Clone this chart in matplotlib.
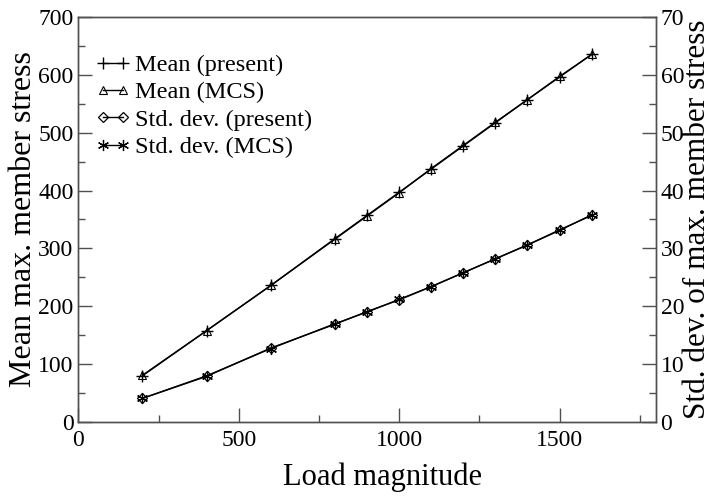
import matplotlib
matplotlib.use('Agg')
import matplotlib.pyplot as plt
from matplotlib.ticker import MultipleLocator

plt.rcParams['font.family'] = ['Liberation Serif', 'DejaVu Serif']

# data
load = [200, 400, 600, 800, 900, 1000, 1100, 1200, 1300, 1400, 1500, 1600]
mean_present = [80, 158, 236, 317, 357, 397, 437, 477, 517, 557, 596, 635]
mean_mcs = [81, 158, 236, 316, 356, 396, 438, 478, 518, 557, 597, 635]
std_present = [4.1, 7.9, 12.8, 16.9, 19.1, 21.1, 23.4, 25.8, 28.2, 30.6, 33.1, 35.8]
std_mcs = [4.1, 8.0, 12.7, 17.0, 19.0, 21.2, 23.4, 25.8, 28.2, 30.6, 33.2, 35.7]

fig = plt.figure(figsize=(7.12, 4.96), dpi=100)
ax = fig.add_axes([0.110, 0.149, 0.811, 0.817])
ax2 = ax.twinx()

lc = 'black'
h1, = ax.plot(load, mean_present, color=lc, lw=1.0, marker='+', ms=9, mew=1.0,
              label='Mean (present)')
h2, = ax.plot(load, mean_mcs, color=lc, lw=1.0, marker='^', ms=6, mew=0.8,
              mfc='none', label='Mean (MCS)')
h3, = ax2.plot(load, std_present, color=lc, lw=1.0, marker='D', ms=5, mew=0.9,
               mfc='none', label='Std. dev. (present)')
h4, = ax2.plot(load, std_mcs, color=lc, lw=1.0, marker=(6, 2, 0), ms=8, mew=0.9,
               label='Std. dev. (MCS)')

ax.set_xlim(0, 1800)
ax.set_ylim(0, 700)
ax2.set_ylim(0, 70)

ax.xaxis.set_major_locator(MultipleLocator(500))
ax.xaxis.set_minor_locator(MultipleLocator(250))
ax.yaxis.set_major_locator(MultipleLocator(100))
ax.yaxis.set_minor_locator(MultipleLocator(50))
ax2.yaxis.set_major_locator(MultipleLocator(10))
ax2.yaxis.set_minor_locator(MultipleLocator(5))

spine_c = '#505050'
for a in (ax, ax2):
    for s in a.spines.values():
        s.set_color(spine_c)
        s.set_linewidth(1.0)
    a.tick_params(which='major', direction='in', length=10, width=1.0,
                  color=spine_c, labelsize=17)
    a.tick_params(which='minor', direction='in', length=5, width=1.0,
                  color=spine_c)
ax.tick_params(axis='x', which='both', top=False, pad=6)

ax.set_xlabel('Load magnitude', fontsize=22)
ax.xaxis.set_label_coords(0.526, -0.10)
ax.set_ylabel('Mean max. member stress', fontsize=23, labelpad=0)
ax2.set_ylabel('Std. dev. of max. member stress', fontsize=22.5, labelpad=-1)

ax.legend(handles=[h1, h2, h3, h4], loc='upper left', frameon=False,
          fontsize=17.5, numpoints=2, handlelength=1.45, handletextpad=0.2,
          labelspacing=0.22, borderaxespad=0.3, bbox_to_anchor=(0.0, 0.95))

fig.savefig('out.png', dpi=100)
